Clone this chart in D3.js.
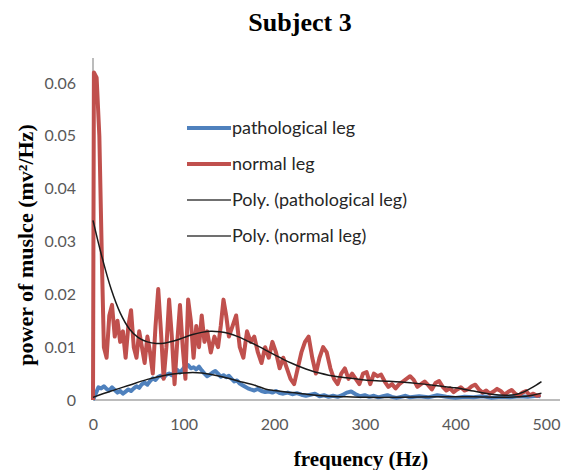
<!DOCTYPE html>
<html>
<head>
<meta charset="utf-8">
<script src="https://cdn.jsdelivr.net/npm/d3@7"></script>
<style>
  body { margin: 0; background: #fff; }
</style>
</head>
<body>
<svg id="chart" width="563" height="470"></svg>
<script>
// tick labels
var xTicks = [0, 100, 200, 300, 400, 500];
var yTicks = [0, 0.01, 0.02, 0.03, 0.04, 0.05, 0.06];
var yTickLabels = ["0", "0.01", "0.02", "0.03", "0.04", "0.05", "0.06"];

var seriesNames = ["pathological leg", "normal leg", "Poly. (pathological leg)", "Poly. (normal leg)"];

// normal leg spectrum
var normalFreq = [0, 1, 4, 7, 10, 12, 15, 18, 21, 24, 27, 30, 33, 36, 39, 42, 45, 48, 51, 54, 57, 60, 63, 66, 69, 72, 75, 78, 81, 84, 87, 90, 93, 96, 99, 102, 105, 108, 111, 114, 117, 120, 123, 126, 130, 134, 138, 141, 144, 147, 150, 154, 158, 162, 166, 170, 174, 178, 182, 186, 190, 194, 198, 202, 206, 210, 214, 218, 222, 226, 230, 234, 238, 242, 246, 250, 254, 258, 262, 266, 270, 274, 278, 282, 286, 290, 294, 298, 302, 306, 310, 314, 318, 322, 326, 330, 334, 338, 342, 346, 350, 354, 358, 362, 366, 370, 374, 378, 382, 386, 390, 394, 398, 402, 406, 410, 414, 418, 422, 426, 430, 434, 438, 442, 446, 450, 454, 458, 462, 466, 470, 474, 478, 482, 486, 490, 494];
var normalPower = [0, 0.062, 0.061, 0.050, 0.025, 0.010, 0.008, 0.016, 0.018, 0.012, 0.015, 0.011, 0.013, 0.008, 0.014, 0.017, 0.010, 0.008, 0.013, 0.010, 0.007, 0.012, 0.009, 0.005, 0.014, 0.021, 0.013, 0.004, 0.010, 0.019, 0.012, 0.003, 0.011, 0.018, 0.010, 0.004, 0.019, 0.015, 0.008, 0.014, 0.010, 0.016, 0.011, 0.013, 0.009, 0.012, 0.010, 0.014, 0.019, 0.016, 0.012, 0.014, 0.016, 0.010, 0.008, 0.013, 0.011, 0.012, 0.009, 0.007, 0.010, 0.008, 0.011, 0.009, 0.006, 0.008, 0.006, 0.004, 0.003, 0.006, 0.009, 0.011, 0.012, 0.008, 0.005, 0.008, 0.010, 0.009, 0.006, 0.004, 0.003, 0.005, 0.006, 0.004, 0.005, 0.004, 0.003, 0.005, 0.0053, 0.003, 0.005, 0.0045, 0.0048, 0.0035, 0.0025, 0.003, 0.0022, 0.003, 0.0035, 0.004, 0.0045, 0.0038, 0.0025, 0.003, 0.0035, 0.0028, 0.002, 0.0032, 0.0036, 0.0025, 0.0018, 0.0022, 0.0015, 0.002, 0.0024, 0.0018, 0.002, 0.0026, 0.0029, 0.002, 0.0014, 0.0018, 0.0012, 0.0016, 0.0021, 0.0017, 0.001, 0.0015, 0.0019, 0.0012, 0.0008, 0.0014, 0.0017, 0.0009, 0.0012, 0.0008, 0.001];

// pathological leg spectrum
var pathFreq = [0, 3, 6, 9, 12, 15, 18, 21, 24, 27, 30, 33, 36, 39, 42, 45, 48, 51, 54, 57, 60, 63, 66, 69, 72, 75, 78, 81, 84, 87, 90, 93, 96, 99, 102, 105, 108, 111, 114, 117, 120, 123, 126, 129, 132, 135, 138, 141, 144, 147, 150, 153, 156, 159, 162, 165, 168, 171, 174, 178, 182, 186, 190, 194, 198, 202, 206, 210, 215, 220, 225, 230, 235, 240, 245, 250, 255, 260, 265, 270, 275, 280, 285, 290, 295, 300, 305, 310, 315, 320, 325, 330, 335, 340, 345, 350, 360, 370, 380, 390, 400, 410, 420, 430, 440, 450, 460, 470, 480, 490, 494];
var pathPower = [0, 0.0012, 0.0024, 0.0022, 0.0026, 0.0021, 0.0018, 0.0024, 0.0019, 0.0014, 0.0017, 0.0012, 0.0016, 0.002, 0.0017, 0.0022, 0.0026, 0.0023, 0.003, 0.0033, 0.0029, 0.0036, 0.0041, 0.0038, 0.0044, 0.0046, 0.0042, 0.0048, 0.005, 0.0047, 0.0054, 0.0057, 0.0052, 0.0058, 0.0065, 0.0066, 0.006, 0.0062, 0.0058, 0.0063, 0.0056, 0.005, 0.0045, 0.0048, 0.0052, 0.0055, 0.005, 0.0044, 0.0047, 0.0043, 0.0046, 0.004, 0.0035, 0.0037, 0.0031, 0.0028, 0.0025, 0.0022, 0.002, 0.0018, 0.0021, 0.0017, 0.0015, 0.0016, 0.0014, 0.0017, 0.0013, 0.0012, 0.0014, 0.0011, 0.0013, 0.001, 0.0008, 0.001, 0.0012, 0.0007, 0.0009, 0.0006, 0.0008, 0.0006, 0.0009, 0.0014, 0.0016, 0.0011, 0.0007, 0.0009, 0.0006, 0.0008, 0.0005, 0.0007, 0.0009, 0.0006, 0.0004, 0.0006, 0.0008, 0.0005, 0.0007, 0.0005, 0.0009, 0.0006, 0.0004, 0.0006, 0.0005, 0.0007, 0.0004, 0.0006, 0.0005, 0.0007, 0.0006, 0.0008, 0.0007];

// polynomial trendlines
var polyNormalFreq = [0, 10, 20, 30, 40, 50, 60, 70, 80, 90, 100, 110, 120, 130, 140, 150, 160, 170, 180, 190, 200, 210, 220, 230, 240, 250, 260, 270, 280, 290, 300, 320, 340, 360, 380, 400, 420, 440, 455, 465, 475, 485, 495];
var polyNormalPower = [0.034, 0.027, 0.021, 0.0165, 0.0135, 0.0118, 0.011, 0.0107, 0.0108, 0.0112, 0.0118, 0.0124, 0.0128, 0.013, 0.0129, 0.0126, 0.012, 0.0112, 0.0104, 0.0095, 0.0086, 0.0077, 0.0069, 0.0062, 0.0056, 0.0051, 0.0047, 0.0044, 0.0042, 0.004, 0.0038, 0.0036, 0.0034, 0.0031, 0.0027, 0.0023, 0.0017, 0.0011, 0.0009, 0.001, 0.0015, 0.0024, 0.0035];

var polyPathFreq = [0, 20, 40, 60, 80, 100, 110, 120, 140, 160, 180, 190, 200, 220, 240, 260, 280, 300, 340, 380, 420, 450, 470, 485, 495];
var polyPathPower = [0.0005, 0.0017, 0.0028, 0.0039, 0.0047, 0.0051, 0.0052, 0.0051, 0.0045, 0.0036, 0.0027, 0.0021, 0.0018, 0.0014, 0.001, 0.0007, 0.0006, 0.0005, 0.0005, 0.0006, 0.0006, 0.0005, 0.0006, 0.0009, 0.0013];

var blue = "#4f81bd", red = "#c0504d";

var svg = d3.select("#chart");

// scales
var x = d3.scaleLinear().domain([0, 500]).range([93, 546]);
var y = d3.scaleLinear().domain([0, 0.06]).range([400, 83]);

// title
svg.append("text")
    .attr("x", 300)
    .attr("y", 31)
    .attr("text-anchor", "middle")
    .style("font-family", "'Liberation Serif', 'Times New Roman', serif")
    .style("font-weight", "bold")
    .style("font-size", "26px")
    .text("Subject 3");

// y axis
var yAxis = svg.append("g")
    .attr("transform", "translate(93,0)")
    .call(d3.axisLeft(y).tickValues(yTicks).tickSize(0).tickPadding(17)
        .tickFormat(function(d, i) { return yTickLabels[i]; }));
yAxis.select(".domain").remove();
yAxis.append("line")
    .attr("x1", 0).attr("x2", 0)
    .attr("y1", 400).attr("y2", 58)
    .attr("stroke", "#a6a6a6").attr("stroke-width", 1.5);

// x axis
var xAxis = svg.append("g")
    .attr("transform", "translate(0,400)")
    .call(d3.axisBottom(x).tickValues(xTicks).tickSize(0).tickPadding(19));
xAxis.select(".domain").remove();
xAxis.append("line")
    .attr("x1", 93).attr("x2", 560)
    .attr("y1", 0).attr("y2", 0)
    .attr("stroke", "#a6a6a6").attr("stroke-width", 1.5);

svg.selectAll(".tick text")
    .style("font-family", "Lato, sans-serif")
    .style("font-size", "16px")
    .attr("fill", "#595959");

// axis titles
svg.append("text")
    .attr("transform", "translate(33,245) rotate(-90)")
    .attr("text-anchor", "middle")
    .style("font-family", "'Liberation Serif', 'Times New Roman', serif")
    .style("font-weight", "bold")
    .style("font-size", "22px")
    .text("power of muslce (mv²/Hz)");

svg.append("text")
    .attr("x", 361)
    .attr("y", 466)
    .attr("text-anchor", "middle")
    .style("font-family", "'Liberation Serif', 'Times New Roman', serif")
    .style("font-weight", "bold")
    .style("font-size", "21px")
    .text("frequency (Hz)");

// helper to zip arrays
function zip(fs, vs) { return fs.map(function(f, i) { return [f, vs[i]]; }); }

var line = d3.line().x(function(d) { return x(d[0]); }).y(function(d) { return y(d[1]); });
var smooth = d3.line().curve(d3.curveCatmullRom).x(function(d) { return x(d[0]); }).y(function(d) { return y(d[1]); });

svg.append("path")
    .datum(zip(pathFreq, pathPower))
    .attr("d", line)
    .attr("fill", "none").attr("stroke", blue).attr("stroke-width", 4).attr("stroke-linejoin", "round");

svg.append("path")
    .datum(zip(normalFreq, normalPower))
    .attr("d", line)
    .attr("fill", "none").attr("stroke", red).attr("stroke-width", 4).attr("stroke-linejoin", "round");

svg.append("path")
    .datum(zip(polyPathFreq, polyPathPower))
    .attr("d", smooth)
    .attr("fill", "none").attr("stroke", "#1a1a1a").attr("stroke-width", 1.5);

svg.append("path")
    .datum(zip(polyNormalFreq, polyNormalPower))
    .attr("d", smooth)
    .attr("fill", "none").attr("stroke", "#1a1a1a").attr("stroke-width", 1.5);

// legend
var legendY = [128, 164, 200, 236];
var legendColor = [blue, red, "#404040", "#404040"];
var legendWidth = [4, 4, 1.5, 1.5];
var legend = svg.append("g");
seriesNames.forEach(function(name, i) {
    legend.append("line")
        .attr("x1", 187).attr("x2", 231)
        .attr("y1", legendY[i]).attr("y2", legendY[i])
        .attr("stroke", legendColor[i]).attr("stroke-width", legendWidth[i]);
    legend.append("text")
        .attr("x", 232)
        .attr("y", legendY[i])
        .attr("dy", "0.35em")
        .style("font-family", "Lato, sans-serif")
        .style("font-size", "18px")
        .attr("fill", "#262626")
        .text(name);
});
</script>
</body>
</html>
